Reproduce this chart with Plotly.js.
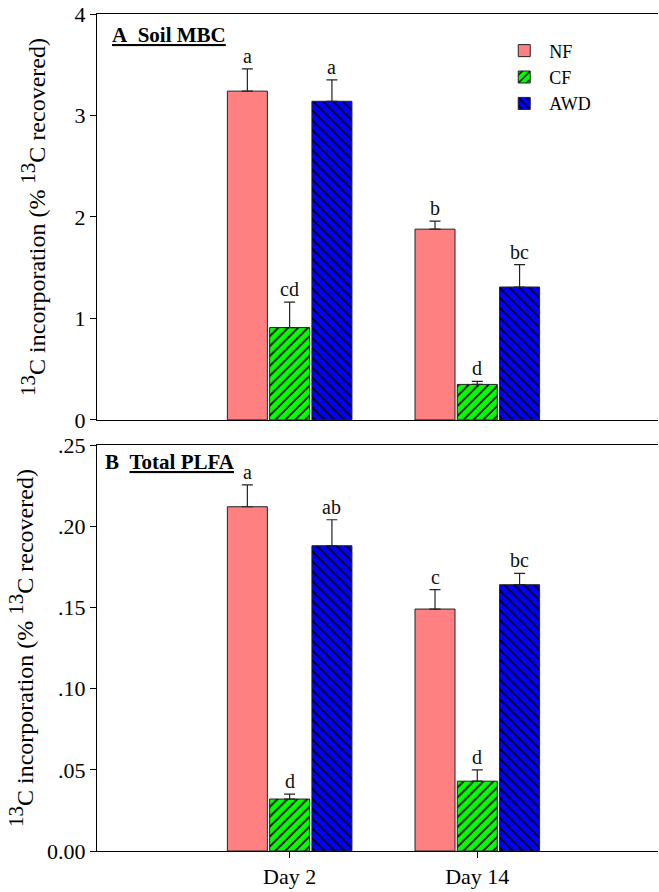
<!DOCTYPE html>
<html><head><meta charset="utf-8">
<script src="https://cdn.plot.ly/plotly-3.0.1.min.js"></script>
<style>html,body{margin:0;padding:0;background:#fff}#chart{width:659px;height:892px}</style>
</head><body><div id="chart"></div>
<script>
// ---- data ----
var categories = ['Day 2', 'Day 14'];
var seriesNames = ['NF', 'CF', 'AWD'];

var mbcNF = [3.24, 1.88];   var mbcNFErr = [0.22, 0.08];
var mbcCF = [0.91, 0.35];   var mbcCFErr = [0.25, 0.03];
var mbcAWD = [3.14, 1.31];  var mbcAWDErr = [0.21, 0.22];
var mbcLetters = [['a', 'b'], ['cd', 'd'], ['a', 'bc']];

var plfaNF = [0.212, 0.149];  var plfaNFErr = [0.0135, 0.012];
var plfaCF = [0.032, 0.043];  var plfaCFErr = [0.003, 0.007];
var plfaAWD = [0.188, 0.164]; var plfaAWDErr = [0.016, 0.007];
var plfaLetters = [['a', 'c'], ['d', 'd'], ['ab', 'bc']];

var mbcTicks = [0, 1, 2, 3, 4];
var mbcTickText = ['0', '1', '2', '3', '4'];
var plfaTicks = [0, 0.05, 0.10, 0.15, 0.20, 0.25];
var plfaTickText = ['0.00', '.05', '.10', '.15', '.20', '.25'];

// ---- styles ----
var FONT = "'Liberation Serif', 'Times New Roman', serif";
var styles = [
  {color: '#FF8080', pattern: null},
  {color: '#00FF00', pattern: {shape: '/', fgcolor: '#000', bgcolor: '#00FF00', size: 7, solidity: 0.25}},
  {color: '#0000FF', pattern: {shape: '\\', fgcolor: '#000', bgcolor: '#0000FF', size: 7, solidity: 0.25}}
];
var bargap = 0.324, bargroupgap = 0.054;

var mbcVals = [mbcNF, mbcCF, mbcAWD], mbcErrs = [mbcNFErr, mbcCFErr, mbcAWDErr];
var plfaVals = [plfaNF, plfaCF, plfaAWD], plfaErrs = [plfaNFErr, plfaCFErr, plfaAWDErr];

var traces = [];
function addPanel(vals, errs, xa, ya, showLegend) {
  for (var s = 0; s < 3; s++) {
    var marker = {color: styles[s].color, line: {color: '#222', width: 1}};
    if (styles[s].pattern) marker.pattern = styles[s].pattern;
    traces.push({
      type: 'bar', x: categories, y: vals[s], name: seriesNames[s],
      xaxis: xa, yaxis: ya, marker: marker, showlegend: showLegend,
      legendgroup: seriesNames[s],
      error_y: {type: 'data', array: errs[s], arrayminus: errs[s].map(function(){return 0;}),
                symmetric: false, color: '#222', thickness: 1.2, width: 5.5}
    });
  }
}
addPanel(mbcVals, mbcErrs, 'x', 'y', true);
addPanel(plfaVals, plfaErrs, 'x2', 'y2', false);

var slot = (1 - bargap) / 3;
var annotations = [];
function addLetters(vals, errs, letters, xref, yref) {
  for (var s = 0; s < 3; s++) {
    for (var c = 0; c < categories.length; c++) {
      annotations.push({
        xref: xref, yref: yref, x: c + (s - 1) * slot, y: vals[s][c] + errs[s][c],
        text: letters[s][c], showarrow: false, yanchor: 'bottom', yshift: 0,
        font: {family: FONT, size: 20, color: '#111'}
      });
    }
  }
}
addLetters(mbcVals, mbcErrs, mbcLetters, 'x', 'y');
addLetters(plfaVals, plfaErrs, plfaLetters, 'x2', 'y2');

var U = '<span style="text-decoration:underline;text-decoration-thickness:3px">';
annotations.push({xref: 'paper', yref: 'paper', x: 0.023, y: 0.975, xanchor: 'left', yanchor: 'middle',
  text: '<b>' + U + 'A&nbsp;&nbsp;Soil MBC</span></b>', showarrow: false, font: {family: FONT, size: 21, color: '#000'}});
annotations.push({xref: 'paper', yref: 'paper', x: 0.011, y: 0.4648, xanchor: 'left', yanchor: 'middle',
  text: '<b>B&nbsp;&nbsp;' + U + 'Total PLFA</span></b>', showarrow: false, font: {family: FONT, size: 21, color: '#000'}});

var ytitle = '<sup><span style="font-size:21px">13</span></sup>C incorporation (% <sup><span style="font-size:21px">13</span></sup>C recovered)';
var xrange = [-1.0266, 1.963];

var layout = {
  width: 659, height: 892,
  margin: {l: 97, r: 1, t: 14, b: 41},
  paper_bgcolor: '#fff', plot_bgcolor: '#fff',
  barmode: 'group', bargap: bargap, bargroupgap: bargroupgap,
  font: {family: FONT, color: '#000'},
  showlegend: true,
  legend: {x: 0.717, y: 0.978, xanchor: 'left', yanchor: 'top', bgcolor: 'rgba(0,0,0,0)',
           font: {family: FONT, size: 18, color: '#000'}, tracegroupgap: 0, itemwidth: 40},
  xaxis: {domain: [0, 1], anchor: 'y', type: 'category', range: xrange, showline: true, mirror: true,
          linecolor: '#000', linewidth: 1, ticks: '', showticklabels: false, showgrid: false, zeroline: false},
  yaxis: {domain: [0.515, 1], anchor: 'x', range: [0, 4], tickvals: mbcTicks, ticktext: mbcTickText,
          ticks: 'outside', ticklen: 6, tickcolor: '#000', showline: true, linecolor: '#000', linewidth: 1,
          showgrid: false, zeroline: false, tickfont: {family: FONT, size: 22, color: '#000'},
          title: {text: ytitle, font: {family: FONT, size: 24, color: '#000'}, standoff: 22}},
  xaxis2: {domain: [0, 1], anchor: 'y2', type: 'category', range: xrange, showline: true, mirror: true,
           linecolor: '#000', linewidth: 1, ticks: 'outside', ticklen: 6, tickcolor: '#000',
           showgrid: false, zeroline: false, tickfont: {family: FONT, size: 22, color: '#000'}},
  yaxis2: {domain: [0, 0.485], anchor: 'x2', range: [0, 0.25], tickvals: plfaTicks, ticktext: plfaTickText,
           ticks: 'outside', ticklen: 6, tickcolor: '#000', showline: true, linecolor: '#000', linewidth: 1,
           showgrid: false, zeroline: false, tickfont: {family: FONT, size: 22, color: '#000'},
           title: {text: ytitle, font: {family: FONT, size: 24, color: '#000'}, standoff: 6}},
  annotations: annotations
};

Plotly.newPlot('chart', traces, layout, {displayModeBar: false, staticPlot: true});
</script></body></html>
